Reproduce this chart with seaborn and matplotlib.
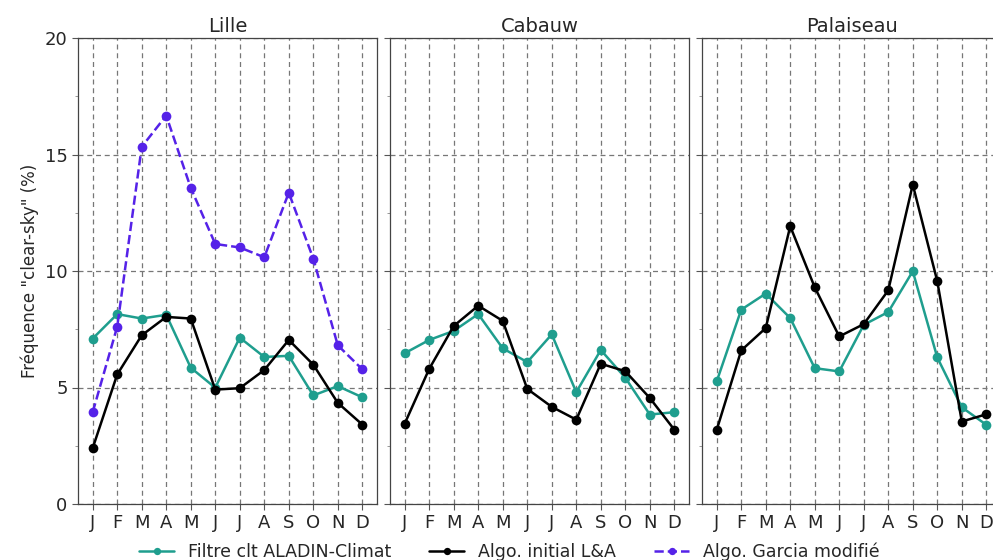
import numpy as np
import pandas as pd
import matplotlib
matplotlib.use('Agg')
import matplotlib.pyplot as plt
import seaborn as sns
from matplotlib.ticker import MultipleLocator

months = ['J', 'F', 'M', 'A', 'M', 'J', 'J', 'A', 'S', 'O', 'N', 'D']
sites = ['Lille', 'Cabauw', 'Palaiseau']

# Filtre clt ALADIN-Climat
lille_filtre = [7.10, 8.15, 7.96, 8.12, 5.85, 4.99, 7.14, 6.31, 6.36, 4.66, 5.06, 4.58]
cabauw_filtre = [6.47, 7.04, 7.43, 8.15, 6.68, 6.09, 7.28, 4.80, 6.61, 5.42, 3.84, 3.94]
palaiseau_filtre = [5.26, 8.34, 9.03, 7.98, 5.83, 5.69, 7.69, 8.24, 9.99, 6.29, 4.15, 3.40]

# Algo. initial L&A
lille_la = [2.40, 5.56, 7.24, 8.03, 7.96, 4.91, 4.97, 5.75, 7.04, 5.98, 4.34, 3.41]
cabauw_la = [3.45, 5.80, 7.64, 8.51, 7.86, 4.94, 4.17, 3.62, 6.02, 5.70, 4.55, 3.19]
palaiseau_la = [3.18, 6.59, 7.55, 11.92, 9.30, 7.19, 7.72, 9.17, 13.71, 9.56, 3.54, 3.85]

# Algo. Garcia modifié (Lille only)
lille_garcia = [3.94, 7.61, 15.33, 16.67, 13.57, 11.16, 11.01, 10.59, 13.36, 10.53, 6.81, 5.78]

label_filtre = 'Filtre clt ALADIN-Climat'
label_la = 'Algo. initial L&A'
label_garcia = 'Algo. Garcia modifié'

teal = '#1f9e8e'
purple = '#5522e8'

data = {
    'Lille': {label_filtre: lille_filtre, label_la: lille_la, label_garcia: lille_garcia},
    'Cabauw': {label_filtre: cabauw_filtre, label_la: cabauw_la},
    'Palaiseau': {label_filtre: palaiseau_filtre, label_la: palaiseau_la},
}
styles = {
    label_filtre: dict(color=teal, linestyle='-'),
    label_la: dict(color='black', linestyle='-'),
    label_garcia: dict(color=purple, linestyle='--'),
}

sns.set_style('white')
plt.rcParams['font.family'] = ['DejaVu Sans']

fig = plt.figure(figsize=(9.93, 5.6), dpi=100)
lefts = [78, 390, 702]
axes = []
for i, site in enumerate(sites):
    ax = fig.add_axes([lefts[i] / 993, 56 / 560, 299 / 993, 466 / 560])
    axes.append(ax)
    for label, values in data[site].items():
        df = pd.DataFrame({'x': np.arange(12), 'y': values})
        st = styles[label]
        sns.lineplot(data=df, x='x', y='y', ax=ax, color=st['color'], linestyle=st['linestyle'],
                     linewidth=1.8, marker='o', markersize=7, markeredgewidth=0,
                     label=label, legend=False)
    ax.set_xlim(-0.6, 11.6)
    ax.set_ylim(0, 20)
    ax.set_xticks(np.arange(12))
    ax.set_xticklabels(months, fontsize=13)
    ax.yaxis.set_major_locator(MultipleLocator(5))
    ax.yaxis.set_minor_locator(MultipleLocator(2.5))
    ax.tick_params(axis='both', which='major', direction='out', length=4, width=0.8,
                   color='#555555', labelsize=13, left=True, bottom=True)
    ax.tick_params(axis='y', which='minor', direction='out', length=2, width=0.6,
                   color='#888888', left=True)
    ax.grid(True, which='major', linestyle=(0, (4, 3)), color='#777777', linewidth=0.9)
    for sp in ax.spines.values():
        sp.set_color('#444444')
        sp.set_linewidth(0.9)
    ax.set_title(site, fontsize=14, pad=4)
    ax.set_xlabel('')
    if i == 0:
        ax.set_ylabel('Fréquence "clear-sky" (%)', fontsize=12)
    else:
        ax.set_ylabel('')
        ax.set_yticklabels([])

handles, labels = axes[0].get_legend_handles_labels()
fig.legend(handles, labels, loc='center', bbox_to_anchor=(0.513, 0.014), ncol=3,
           frameon=False, fontsize=12.5, markerscale=0.75, handlelength=2.0, columnspacing=2.2)

fig.savefig('out.png', dpi=100)
